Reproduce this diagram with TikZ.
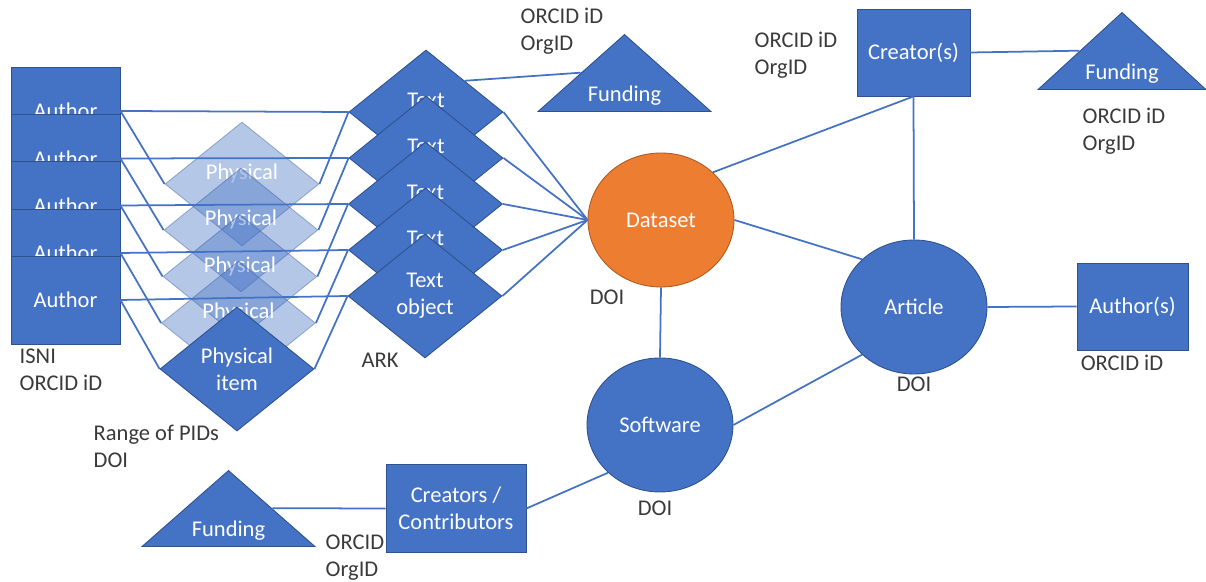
\documentclass[tikz,border=0pt]{standalone}
\usepackage{fontspec}
\setmainfont{Carlito}
\usetikzlibrary{shapes.geometric}
\definecolor{officeblue}{HTML}{4472C4}
\definecolor{officeedge}{HTML}{2F528F}
\definecolor{officeorange}{HTML}{ED7D31}
\definecolor{orangeedge}{HTML}{AE5A21}
\definecolor{labelgray}{HTML}{3A3A3A}
\newcommand{\lowtext}[1]{\makebox[0pt]{\raisebox{-13pt}[0pt][0pt]{#1}}}

\begin{document}
\begin{tikzpicture}[font=\fontsize{12.8pt}{15.3pt}\selectfont,line width=1pt,
  box/.style={rectangle,fill=officeblue,draw=officeedge,line width=0.5pt,text=white,align=center,inner sep=1pt},
  author/.style={box,minimum width=2.18cm,minimum height=1.76cm},
  item/.style={diamond,fill=officeblue,draw=officeedge,line width=0.5pt,text=white,align=center,
    minimum width=3.08cm,minimum height=2.48cm,inner sep=0pt},
  ghost/.style={item,fill opacity=0.4,draw opacity=0.4,text opacity=1},
  upper/.style={text depth=13.5pt},
  oval/.style={ellipse,fill=officeblue,draw=officeedge,line width=0.5pt,text=white,
    minimum width=2.92cm,minimum height=2.68cm},
  fund/.style={isosceles triangle,isosceles triangle stretches,shape border rotate=90,
    fill=officeblue,draw=officeedge,line width=0.5pt,text=white,anchor=lower side,
    minimum width=3.46cm,minimum height=1.54cm,inner sep=0pt,text height=0pt,text depth=0pt},
  link/.style={draw=officeblue},
  note/.style={text=labelgray,align=left,anchor=west}]
\useasboundingbox (0,0) rectangle (24.12,11.64);
% 作者（左侧叠放）
\node[author] (author1) at (1.31,9.42) {Author};
\node[author] (author2) at (1.31,8.47) {Author};
\node[author] (author3) at (1.31,7.53) {Author};
\node[author] (author4) at (1.31,6.58) {Author};
\node[author] (author5) at (1.31,5.64) {Author};
% 实物（半透明菱形）
\node[ghost,upper] (phys1) at (4.84,7.96) {Physical};
\node[ghost,upper] (phys2) at (4.82,7.04) {Physical};
\node[ghost,upper] (phys3) at (4.80,6.11) {Physical};
\node[ghost,upper] (phys4) at (4.77,5.18) {Physical};
\node[item] (phys5) at (4.74,4.26) {Physical\\item};
% 文本对象
\node[item,upper] (text1) at (8.52,9.40) {Text};
\node[item,upper] (text2) at (8.52,8.48) {Text};
\node[item,upper] (text3) at (8.51,7.56) {Text};
\node[item,upper] (text4) at (8.51,6.64) {Text};
\node[item] (text5) at (8.50,5.72) {Text\\object};
% 数据集、软件、文章
\node[oval,fill=officeorange,draw=orangeedge] (dataset) at (13.22,7.24) {Dataset};
\node[oval] (software) at (13.20,3.14) {Software};
\node[oval] (article) at (18.28,5.50) {Article};
% 右侧与下方的方框
\node[box,minimum width=2.26cm,minimum height=1.74cm] (creator) at (18.27,10.59) {Creator(s)};
\node[box,minimum width=2.22cm,minimum height=1.74cm] (authors) at (22.65,5.51) {Author(s)};
\node[box,minimum width=2.80cm,minimum height=1.76cm] (contrib) at (9.12,1.47) {Creators /\\Contributors};
% 资助（三角形）
\node[fund] (fundA) at (12.49,9.40) {\lowtext{Funding}};
\node[fund,minimum width=3.36cm] (fundB) at (22.44,9.84) {\lowtext{Funding}};
\node[fund,minimum height=1.52cm] (fundC) at (4.57,0.70) {\lowtext{Funding}};
% 标识符标注
\node[note] (isni) at (0.26,4.24) {ISNI\\ORCID iD};
\node[note] (range) at (1.74,2.72) {Range of PIDs\\DOI};
\node[text=labelgray] (ark) at (7.60,4.44) {ARK};
\node[note] (orgA) at (10.28,11.02) {ORCID iD\\OrgID};
\node[note] (orgB) at (14.96,10.54) {ORCID iD\\OrgID};
\node[note] (orgC) at (21.52,9.02) {ORCID iD\\OrgID};
\node[note] (orgD) at (6.38,0.48) {ORCID\\OrgID};
\node[text=labelgray] (doiD) at (12.14,5.70) {DOI};
\node[text=labelgray] (doiS) at (13.10,1.48) {DOI};
\node[text=labelgray] (doiA) at (18.28,3.96) {DOI};
\node[text=labelgray] (orcidA) at (22.44,4.38) {ORCID iD};
% 作者 -> 文本 / 实物
\draw[link] (author1.east) -- (text1.west);
\draw[link] (author2.east) -- (text2.west);
\draw[link] (author3.east) -- (text3.west);
\draw[link] (author4.east) -- (text4.west);
\draw[link] (author5.east) -- (text5.west);
\draw[link] (author1.east) -- (phys1.west);
\draw[link] (author2.east) -- (phys2.west);
\draw[link] (author3.east) -- (phys3.west);
\draw[link] (author4.east) -- (phys4.west);
\draw[link] (author5.east) -- (phys5.west);
% 实物 -> 文本
\draw[link] (phys1.east) -- (text1.west);
\draw[link] (phys2.east) -- (text2.west);
\draw[link] (phys3.east) -- (text3.west);
\draw[link] (phys4.east) -- (text4.west);
\draw[link] (phys5.east) -- (text5.west);
% 文本 -> 数据集
\draw[link] (text1.east) -- (dataset.west);
\draw[link] (text2.east) -- (dataset.west);
\draw[link] (text3.east) -- (dataset.west);
\draw[link] (text4.east) -- (dataset.west);
\draw[link] (text5.east) -- (dataset.west);
\draw[link] (text1.north east) -- (fundA.left side);
% 右侧连线
\draw[link] (dataset.north east) -- (creator.south);
\draw[link] (creator.east) -- (fundB.left side);
\draw[link] (creator.south) -- (article.north);
\draw[link] (dataset.east) -- (article.north west);
\draw[link] (dataset.south) -- (software.north);
\draw[link] (software.east) -- (article.south west);
\draw[link] (article.east) -- (authors.west);
% 软件 -> 贡献者 -> 资助
\draw[link] (software.south west) -- (contrib.east);
\draw[link] (contrib.west) -- (fundC.right side);
\end{tikzpicture}
\end{document}
